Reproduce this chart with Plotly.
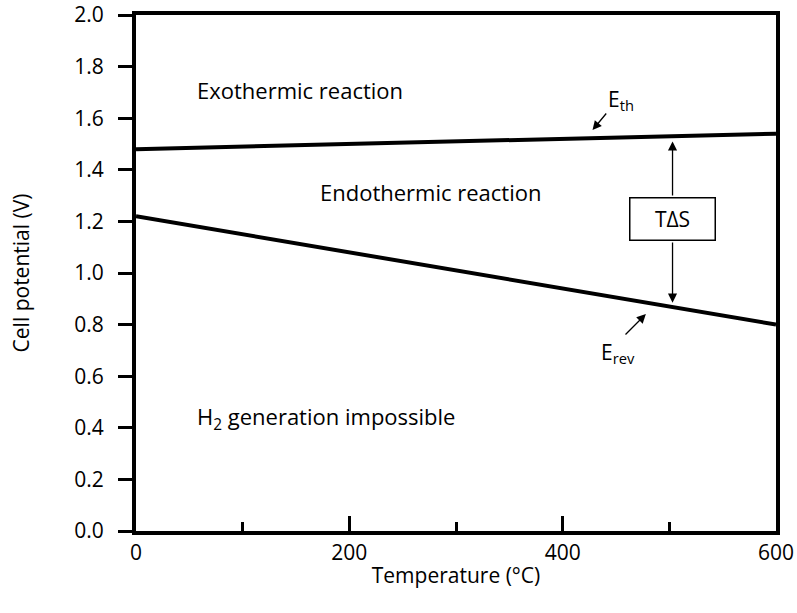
import plotly.graph_objects as go

temperature = [0, 600]
e_th = [1.48, 1.54]
e_rev = [1.22, 0.80]

x_ticks = [0, 200, 400, 600]
x_minor_ticks = [100, 300, 500]
y_ticks = [0.0, 0.2, 0.4, 0.6, 0.8, 1.0, 1.2, 1.4, 1.6, 1.8, 2.0]

FONT = "Open Sans"
fig = go.Figure()
fig.add_trace(go.Scatter(x=temperature, y=e_th, mode="lines",
                         line=dict(color="black", width=4), name="Eth"))
fig.add_trace(go.Scatter(x=temperature, y=e_rev, mode="lines",
                         line=dict(color="black", width=4), name="Erev"))

ann = []
def txt(x, y, t, xa="left", size=22):
    ann.append(dict(x=x, y=y, text=t, showarrow=False, xanchor=xa, yanchor="middle",
                    font=dict(family=FONT, size=size, color="black")))

txt(55, 1.709, "Exothermic reaction")
txt(171, 1.314, "Endothermic reaction")
txt(55, 0.438, "H<sub>2</sub> generation impossible")
txt(455, 1.671, "E<sub>th</sub>", "center", 21)
txt(452, 0.69, "E<sub>rev</sub>", "center", 21)

# TΔS box
ann.append(dict(x=503, y=1.209, text="T\u0394S", showarrow=False,
                font=dict(family=FONT, size=21, color="black"),
                bordercolor="black", borderwidth=1.5, width=84, height=41, borderpad=0,
                bgcolor="white"))
# double arrow
arrow_style = dict(xref="x", yref="y", axref="x", ayref="y", showarrow=True, arrowhead=2,
                   arrowsize=1.4, arrowwidth=1.3, arrowcolor="black", text="")
ann.append(dict(x=503, y=1.51, ax=503, ay=1.295, **arrow_style))
ann.append(dict(x=503, y=0.885, ax=503, ay=1.124, **arrow_style))
# label arrows
ann.append(dict(x=428, y=1.554, ax=442, ay=1.624, **arrow_style))
ann.append(dict(x=478, y=0.841, ax=457.5, ay=0.756, **arrow_style))

fig.update_layout(
    width=797, height=613,
    margin=dict(l=136, r=21, t=15, b=82),
    plot_bgcolor="white", paper_bgcolor="white",
    showlegend=False,
    font=dict(family=FONT, size=20, color="black"),
    annotations=ann,
    xaxis=dict(range=[0, 600], tickvals=x_ticks, ticks="inside", ticklen=15, tickwidth=2.5,
               tickcolor="black", showline=True, linewidth=4, linecolor="black", mirror=True,
               showgrid=False, zeroline=False, ticklabelstandoff=0, automargin=False,
               minor=dict(tickvals=x_minor_ticks, ticks="inside", ticklen=9, tickwidth=2.5, tickcolor="black"),
               title=dict(text="Temperature (\u00b0C)", font=dict(size=21), standoff=4),
               tickfont=dict(size=21)),
    yaxis=dict(range=[0, 2.0], tickvals=y_ticks, ticktext=[f"{v:.1f}" for v in y_ticks],
               ticks="outside", ticklen=14, tickwidth=3, tickcolor="black",
               showline=True, linewidth=4, linecolor="black", mirror=True,
               showgrid=False, zeroline=False, ticklabelstandoff=10, automargin=False,
               title=dict(text="Cell potential (V)", font=dict(size=21), standoff=40),
               tickfont=dict(size=21)),
)
fig.write_html("out.html")
